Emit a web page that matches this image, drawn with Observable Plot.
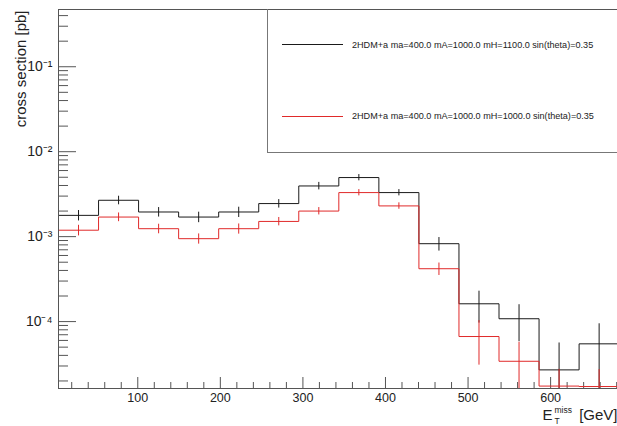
<!DOCTYPE html>
<html><head><meta charset="utf-8">
<script src="https://cdn.jsdelivr.net/npm/d3@7"></script>
<script src="https://cdn.jsdelivr.net/npm/@observablehq/plot@0.6"></script>
<style>
body{margin:0;background:#fff;font-family:"Liberation Sans",Arial,sans-serif;}
#wrap{position:relative;width:617px;height:426px;overflow:hidden;}
#legend{position:absolute;left:267px;top:9px;width:360px;height:144px;border-left:1px solid #777;border-bottom:1px solid #777;box-sizing:border-box;}
.entry{position:absolute;left:14px;display:flex;align-items:center;font-size:9.1px;color:#222;transform:translateY(-50%);white-space:nowrap;}
.swatch{display:inline-block;width:61px;height:0;border-top:1px solid;margin-right:9px;}
</style></head>
<body><div id="wrap"><div id="legend"></div></div>
<script>
// ---- data ----
const binLow = [4, 52.5, 101, 149.5, 198, 246.5, 295, 343.5, 392, 440.5, 489, 537.5, 586, 634.5];
const binWidth = 48.5;
const seriesNames = [
  "2HDM+a ma=400.0 mA=1000.0 mH=1100.0 sin(theta)=0.35",
  "2HDM+a ma=400.0 mA=1000.0 mH=1000.0 sin(theta)=0.35"
];
const seriesColors = ["#1a1a1a", "#e02a2a"];
const blackValues = [1.78e-3, 2.68e-3, 1.95e-3, 1.70e-3, 1.95e-3, 2.45e-3, 3.95e-3, 4.96e-3, 3.30e-3, 8.26e-4, 1.62e-4, 1.08e-4, 2.70e-5, 5.47e-5];
const blackErrors = [2.5e-4, 3.1e-4, 2.5e-4, 2.4e-4, 2.7e-4, 2.8e-4, 4.0e-4, 4.2e-4, 2.8e-4, 1.5e-4, 6.6e-5, 5.0e-5, 2.9e-5, 3.95e-5];
const redValues = [1.19e-3, 1.70e-3, 1.24e-3, 9.46e-4, 1.24e-3, 1.51e-3, 2.00e-3, 3.30e-3, 2.30e-3, 4.19e-4, 6.67e-5, 3.41e-5, 1.74e-5, 1.72e-5];
const redErrors = [1.7e-4, 2.0e-4, 1.6e-4, 1.3e-4, 1.7e-4, 1.7e-4, 2.0e-4, 2.8e-4, 2.0e-4, 7.0e-5, 3.6e-5, 2.3e-5, 1.0e-5, 1.0e-5];
const xTickLabels = [100, 200, 300, 400, 500, 600];
const yTickLabels = [1e-4, 1e-3, 1e-2, 1e-1];
const yTitle = "cross section [pb]";

// ---- layout ----
const W = 617, H = 426;
const mLeft = 58, mTop = 9, mRight = 0, mBottom = 38;
const plotW = W - mLeft - mRight, plotH = H - mTop - mBottom;
const xDomain = [4, 681];
const yDomain = [1.63e-5, 0.472];

function stepPoints(vals) {
  const pts = binLow.map((x, i) => ({x, y: vals[i]}));
  pts.push({x: binLow[binLow.length - 1] + binWidth, y: vals[vals.length - 1]});
  return pts;
}
function errPoints(vals, errs) {
  return binLow.map((x, i) => ({x: x + binWidth / 2, y1: Math.max(vals[i] - errs[i], 1e-9), y2: vals[i] + errs[i]}));
}
const sup = {"-": "\u207B", "0": "\u2070", "1": "\u00B9", "2": "\u00B2", "3": "\u00B3", "4": "\u2074", "5": "\u2075"};
const fmtPow = d => "10" + String(Math.round(Math.log10(d))).split("").map(c => sup[c]).join("");

const xMinor = d3.range(20, 681, 20).filter(v => v % 100 !== 0);
const yMinor = [];
for (let e = -5; e <= -1; e++) for (let k = 2; k <= 9; k++) {
  const v = k * Math.pow(10, e);
  if (v > yDomain[0] && v < yDomain[1]) yMinor.push(v);
}

const axisColor = "#555";
const plot = Plot.plot({
  width: W, height: H,
  marginLeft: mLeft, marginTop: mTop, marginRight: mRight, marginBottom: mBottom,
  style: {fontFamily: "'Liberation Sans', Arial, sans-serif", color: "#222", background: "#fff"},
  x: {domain: xDomain},
  y: {type: "log", domain: yDomain},
  marks: [
    // ticks (inward)
    Plot.ruleY(yTickLabels, {y: d => d, stroke: axisColor, insetRight: plotW - 18}),
    Plot.ruleY(yMinor, {y: d => d, stroke: axisColor, insetRight: plotW - 10}),
    Plot.ruleX(xTickLabels, {x: d => d, stroke: axisColor, insetTop: plotH - 11}),
    Plot.ruleX(xMinor, {x: d => d, stroke: axisColor, insetTop: plotH - 6}),
    Plot.axisY(yTickLabels, {tickSize: 0, tickPadding: 6, tickFormat: fmtPow, fontSize: 14, label: null}),
    Plot.axisX(xTickLabels, {tickSize: 0, tickPadding: 4.5, tickFormat: d => String(d), fontSize: 12.5, label: null}),
    // histograms
    Plot.line(stepPoints(blackValues), {x: "x", y: "y", curve: "step-after", stroke: seriesColors[0], strokeWidth: 1, clip: true}),
    Plot.ruleX(errPoints(blackValues, blackErrors), {x: "x", y1: "y1", y2: "y2", stroke: seriesColors[0], strokeWidth: 1, clip: true}),
    Plot.line(stepPoints(redValues), {x: "x", y: "y", curve: "step-after", stroke: seriesColors[1], strokeWidth: 1, clip: true}),
    Plot.ruleX(errPoints(redValues, redErrors), {x: "x", y1: "y1", y2: "y2", stroke: seriesColors[1], strokeWidth: 1, clip: true}),
    Plot.frame({stroke: axisColor}),
    // axis titles
    Plot.text([yTitle], {text: d => d, frameAnchor: "top-left", rotate: -90, textAnchor: "end", lineAnchor: "middle", dx: -37, dy: 1, fontSize: 15, fill: "#222"}),
    Plot.text(["E"], {text: d => d, frameAnchor: "bottom-right", textAnchor: "start", lineAnchor: "bottom", dx: -75, dy: 31, fontSize: 15, fill: "#222"}),
    Plot.text(["miss"], {text: d => d, frameAnchor: "bottom-right", textAnchor: "start", lineAnchor: "bottom", dx: -63, dy: 24, fontSize: 8.5, fill: "#222"}),
    Plot.text(["T"], {text: d => d, frameAnchor: "bottom-right", textAnchor: "start", lineAnchor: "bottom", dx: -63, dy: 35.5, fontSize: 8.5, fill: "#222"}),
    Plot.text(["[GeV]"], {text: d => d, frameAnchor: "bottom-right", textAnchor: "end", lineAnchor: "bottom", dx: 0, dy: 31, fontSize: 15, fill: "#222"})
  ]
});
document.getElementById("wrap").prepend(plot);

// legend
const legend = document.getElementById("legend");
const entryTops = [35.5, 107];
seriesNames.forEach((name, i) => {
  const row = document.createElement("div");
  row.className = "entry";
  row.style.top = entryTops[i] + "px";
  const sw = document.createElement("span");
  sw.className = "swatch";
  sw.style.borderTopColor = seriesColors[i];
  const tx = document.createElement("span");
  tx.textContent = name;
  row.append(sw, tx);
  legend.append(row);
});
</script>
</body></html>
